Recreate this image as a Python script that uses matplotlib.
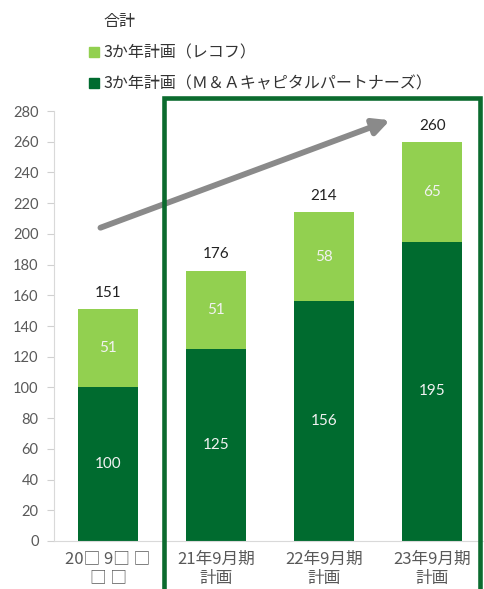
import matplotlib
matplotlib.use("Agg")
import matplotlib.pyplot as plt
from matplotlib.patches import Patch, Rectangle
import numpy as np

plt.rcParams['font.family'] = ['Lato', 'Noto Sans CJK JP', 'DejaVu Sans']

# データ
categories = ['20□ 9□ □\n□ □', '21年9月期\n計画', '22年9月期\n計画', '23年9月期\n計画']
ma_capital = [100, 125, 156, 195]   # 3か年計画（Ｍ＆Ａキャピタルパートナーズ）
recof = [51, 51, 58, 65]            # 3か年計画（レコフ）
totals = [151, 176, 214, 260]
yticks = list(range(0, 281, 20))

dark = '#006B2F'
light = '#92D050'
gray_txt = '#595959'

fig = plt.figure(figsize=(4.84, 5.89), dpi=100)
ax = fig.add_axes([54 / 484, 48 / 589, 430 / 484, 430 / 589])

x = np.arange(len(categories))
w = 0.56
ax.bar(x, ma_capital, w, color=dark, zorder=2)
ax.bar(x, recof, w, bottom=ma_capital, color=light, zorder=2)

# ラベル
for i in range(len(x)):
    ax.text(x[i], ma_capital[i] / 2, str(ma_capital[i]), ha='center', va='center',
            color='#f2f2f2', fontsize=11)
    ax.text(x[i], ma_capital[i] + recof[i] / 2, str(recof[i]), ha='center', va='center',
            color='#f2f2f2', fontsize=11)
    ax.text(x[i], totals[i] + 6, str(totals[i]), ha='center', va='bottom',
            color='#222222', fontsize=11)

ax.set_xlim(-0.5, 3.48)
ax.set_ylim(0, 280)
ax.set_yticks(yticks)
ax.tick_params(axis='y', labelsize=10.5, labelcolor=gray_txt, color='#d0d0d0', length=5, pad=6)
ax.set_xticks(x)
ax.set_xticklabels(categories, fontsize=12, color=gray_txt, linespacing=1.15,
                   family=['Noto Sans CJK JP', 'DejaVu Sans'])
ax.tick_params(axis='x', length=0, pad=7)
for s in ['top', 'right']:
    ax.spines[s].set_visible(False)
ax.spines['left'].set_color('#d9d9d9')
ax.spines['bottom'].set_color('#d9d9d9')

# 矢印
ax.annotate('', xy=(2.61, 274), xytext=(-0.07, 204),
            arrowprops=dict(arrowstyle='-|>', lw=4.2, color='#8a8a8a', mutation_scale=24,
                            shrinkA=0, shrinkB=0),
            annotation_clip=False, zorder=5)

# 緑の枠
frame = Rectangle((164 / 484, -0.05), (480 - 164) / 484, (589 - 98) / 589 + 0.05,
                  transform=fig.transFigure, fill=False, edgecolor='#0B6B2E', lw=3.3,
                  clip_on=False)
fig.add_artist(frame)

# 凡例
handles = [Patch(visible=False), Patch(color=light), Patch(color=dark)]
labels = ['合計', '3か年計画（レコフ）', '3か年計画（Ｍ＆Ａキャピタルパートナーズ）']
leg = fig.legend(handles, labels, loc='upper left', bbox_to_anchor=(75 / 484, 1 + 1 / 589),
                 frameon=False, handlelength=0.6, handleheight=0.6, handletextpad=0.3,
                 labelspacing=0.88, prop={'family': ['Noto Sans CJK JP', 'DejaVu Sans'], 'size': 11.5})
for t in leg.get_texts():
    t.set_color('#333333')

fig.savefig('out.png', dpi=100)
